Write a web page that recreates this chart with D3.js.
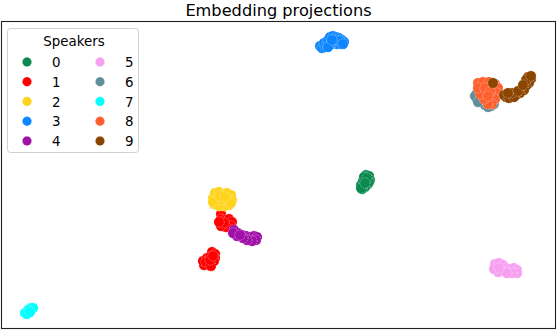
<!DOCTYPE html>
<html>
<head>
<meta charset="utf-8">
<script src="https://cdn.jsdelivr.net/npm/d3@7"></script>
<style>
  body { margin: 0; background: #fff; }
  svg { display: block; font-family: "DejaVu Sans", sans-serif; }
</style>
</head>
<body>
<div id="chart"></div>
<script>
// projected embeddings, one small array per speaker
var speakers = ["0", "1", "2", "3", "4", "5", "6", "7", "8", "9"];
var colors = ["#0a8a4e", "#ff0000", "#ffd21c", "#0c85ff", "#a010a8",
              "#f7a0f0", "#5f8f9a", "#00ffff", "#ff6030", "#8b4500"];

var pts0 = [[36.4,15.3],[36.7,15.2],[36.8,14.8],[36.6,14.4],[36.3,14.1],[36.0,13.9],
            [35.9,14.3],[36.1,14.7],[36.4,14.8],[36.2,15.1],[36.7,14.6],[35.9,14.0],
            [36.5,15.0],[36.3,14.5]];
var pts1 = [[21.9,11.4],[21.9,10.9],[22.3,10.8],[22.7,10.9],[23.0,10.6],[22.9,10.2],
            [22.4,10.1],[21.9,10.2],[22.2,10.5],[21.7,10.6],
            [21.0,7.6],[21.3,7.4],[21.3,7.0],[21.0,6.6],[20.6,6.3],[20.2,6.3],
            [20.1,6.7],[20.5,7.0],[20.8,7.1],[21.2,6.7],[20.4,6.6],[20.9,6.2],
            [20.8,6.8],[21.1,7.2]];
var pts2 = [[21.1,13.0],[21.3,13.5],[21.7,13.6],[22.1,13.3],[22.5,13.5],[22.9,13.3],
            [23.0,12.8],[22.7,12.3],[22.2,12.2],[21.7,12.2],[21.2,12.4],[21.5,12.9],
            [22.0,12.8],[22.5,12.9],[21.1,12.6],[22.9,12.5],[21.8,13.2],[22.3,13.1]];
var pts3 = [[31.8,28.2],[32.0,28.0],[32.3,28.1],[32.2,28.5],[32.5,28.4],[32.6,28.8],
            [32.8,29.1],[33.1,29.2],[33.4,29.1],[33.7,29.0],[34.0,28.8],[34.2,28.6],
            [33.9,28.4],[33.5,28.4],[33.1,28.5],[32.8,28.3],[33.3,28.8],[33.8,28.7],
            [32.6,28.1],[33.0,28.8],[34.1,28.4]];
var pts4 = [[23.2,9.8],[23.6,9.5],[24.0,9.3],[24.4,9.2],[24.8,9.1],[25.2,9.2],[25.5,9.1],
            [25.4,8.8],[25.0,8.7],[24.5,8.8],[24.1,9.0],[23.5,9.2],[23.1,9.5],[23.8,9.3]];
var pts5 = [[49.3,6.4],[49.7,6.5],[50.1,6.3],[50.4,6.0],[50.1,5.7],[49.6,5.6],[49.2,5.9],
            [50.8,5.9],[51.2,6.0],[51.5,5.8],[51.5,5.5],[51.0,5.5],[50.5,5.5],[49.7,6.0]];
var pts6 = [[47.5,23.5],[47.5,22.9],[47.9,22.6],[48.3,22.3],[48.9,22.2],[49.2,22.4],
            [47.8,24.0],[48.4,24.3],[47.3,23.2],[47.6,22.6],[48.6,22.1]];
var pts7 = [[2.9,2.0],[3.1,2.0],[2.6,1.8],[2.3,1.5],[2.5,1.4],[2.8,1.6]];
var pts8 = [[47.6,24.5],[48.1,24.6],[48.7,24.6],[49.3,24.4],[49.6,24.0],[49.5,23.5],
            [49.3,22.9],[49.0,22.4],[48.6,22.4],[48.2,22.9],[47.8,23.4],[47.6,24.0],
            [48.3,24.0],[48.8,23.6],[48.6,23.2]];
var pts9 = [[49.1,24.5],[52.6,25.1],[52.9,24.9],[52.7,24.5],[52.4,24.2],[52.2,23.8],
            [51.8,23.5],[51.4,23.3],[50.9,23.2],[50.4,23.1],[50.2,23.3],[50.7,23.0],
            [51.2,23.1],[52.4,24.8],[51.0,23.5],[51.6,23.7],[50.6,23.5],[52.1,24.3],
            [52.9,25.2]];

var points = [pts0, pts1, pts2, pts3, pts4, pts5, pts6, pts7, pts8, pts9];

var width = 558, height = 330;
var svg = d3.select("#chart").append("svg")
  .attr("width", width)
  .attr("height", height);

var x = d3.scaleLinear().domain([0, 55.3]).range([2, 555]);
var y = d3.scaleLinear().domain([0, 30.7]).range([328, 21]);

// title
svg.append("text")
  .attr("x", 278.5)
  .attr("y", 15.5)
  .attr("text-anchor", "middle")
  .style("font-size", "16.2px")
  .text("Embedding projections");

// scatter, drawn speaker by speaker so later ones sit on top
var plot = svg.append("g");
points.forEach(function(p, i) {
  plot.append("g").selectAll("circle")
    .data(p)
    .join("circle")
    .attr("cx", d => x(d[0]))
    .attr("cy", d => y(d[1]))
    .attr("r", 5.2)
    .attr("fill", colors[i])
    .attr("stroke", "white")
    .attr("stroke-width", 0.6)
    .attr("stroke-dasharray", "1.2,1")
    .attr("stroke-opacity", 0.7);
});

// frame
svg.append("rect")
  .attr("x", 1.5).attr("y", 21.5)
  .attr("width", 554).attr("height", 307)
  .attr("fill", "none")
  .attr("stroke", "#222")
  .attr("stroke-width", 1.1);

// legend
var leg = svg.append("g");
leg.append("rect")
  .attr("x", 7.5).attr("y", 28.5)
  .attr("width", 131).attr("height", 124)
  .attr("rx", 3)
  .attr("fill", "white").attr("fill-opacity", 0.8)
  .attr("stroke", "#d0d0d0");
leg.append("text")
  .attr("x", 74).attr("y", 46)
  .attr("text-anchor", "middle")
  .style("font-size", "13.4px")
  .text("Speakers");

var rowY = d3.scalePoint().domain(d3.range(5)).range([62, 141]);
speakers.forEach(function(s, i) {
  var col = Math.floor(i / 5), row = i % 5;
  var mx = col == 0 ? 27 : 100;
  var g = leg.append("g");
  g.append("circle")
    .attr("cx", mx).attr("cy", rowY(row))
    .attr("r", 4.7)
    .attr("fill", colors[i])
    .attr("stroke", "white")
    .attr("stroke-width", 0.6)
    .attr("stroke-dasharray", "1.2,1")
    .attr("stroke-opacity", 0.8);
  g.append("text")
    .attr("x", mx + 25)
    .attr("y", rowY(row) + 5)
    .style("font-size", "13.4px")
    .text(s);
});
</script>
</body>
</html>
